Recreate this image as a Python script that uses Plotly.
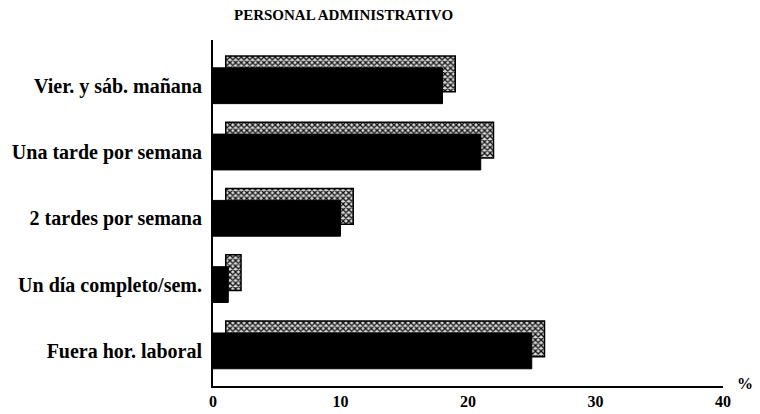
import plotly.graph_objects as go

categories = ["Vier. y sáb. mañana", "Una tarde por semana", "2 tardes por semana",
              "Un día completo/sem.", "Fuera hor. laboral"]
values = [18, 21, 10, 1.2, 25]
x_ticks = [0, 10, 20, 30, 40]

DEPTH_X = 1.0     # 3D depth along value axis (data units)
DEPTH_Y = 0.18    # 3D depth along category axis (category units)
BAR_W = 0.54

fig = go.Figure()
# 3D "shadow" (top and side faces), drawn behind
fig.add_trace(go.Bar(
    y=categories, x=values, base=[DEPTH_X] * len(values), orientation="h",
    width=BAR_W, offset=-BAR_W / 2 - DEPTH_Y,
    marker=dict(color="#c0c0c0",
                line=dict(color="black", width=1.5),
                pattern=dict(shape="x", size=4, solidity=0.55,
                             fgcolor="#111111", bgcolor="#dcdcdc")),
    hoverinfo="skip", showlegend=False))
# front face
fig.add_trace(go.Bar(
    y=categories, x=values, orientation="h",
    width=BAR_W, offset=-BAR_W / 2,
    marker=dict(color="black", line=dict(color="black", width=1)),
    showlegend=False))

font_family = "Liberation Serif, Times New Roman, serif"
OFF = 8  # default page body margin in the browser
W, H = 760 - OFF, 414 - OFF
PL, PR, PT, PB = 213 - OFF, 723 - OFF, 40 - OFF, 386 - OFF  # plot area in figure pixels
pw, ph = PR - PL, PB - PT
fig.update_layout(
    template="none",
    width=W, height=H,
    margin=dict(l=PL, r=W - PR, t=PT, b=H - PB, pad=0),
    paper_bgcolor="white", plot_bgcolor="white",
    barmode="overlay",
    font=dict(family=font_family, color="black", size=13),
    showlegend=False,
    xaxis=dict(range=[0, 40], tickvals=x_ticks, ticktext=[str(v) for v in x_ticks],
               automargin=False,
               showgrid=False, zeroline=False, showline=True, linecolor="black",
               linewidth=2, ticks="", ticklabelstandoff=0,
               tickfont=dict(family=font_family, size=16, weight="bold")),
    yaxis=dict(categoryorder="array", categoryarray=categories,
               range=[4.53, -0.69], showgrid=False, zeroline=False,
               automargin=False,
               showline=True, linecolor="black", linewidth=2, ticks="",
               ticklabelstandoff=5,
               tickfont=dict(family=font_family, size=20, weight="bold")),
    annotations=[
        dict(text="PERSONAL ADMINISTRATIVO", x=(343 - OFF - PL) / pw,
             y=(PB - (15 - OFF)) / ph,
             xref="paper", yref="paper", xanchor="center", yanchor="middle",
             showarrow=False, font=dict(family=font_family, size=15, weight="bold")),
        dict(text="%", x=(745 - OFF - PL) / pw, y=(PB - (383 - OFF)) / ph,
             xref="paper", yref="paper",
             xanchor="center", yanchor="middle", showarrow=False,
             font=dict(family=font_family, size=16, weight="bold")),
    ],
)

fig.write_html("out.html")
